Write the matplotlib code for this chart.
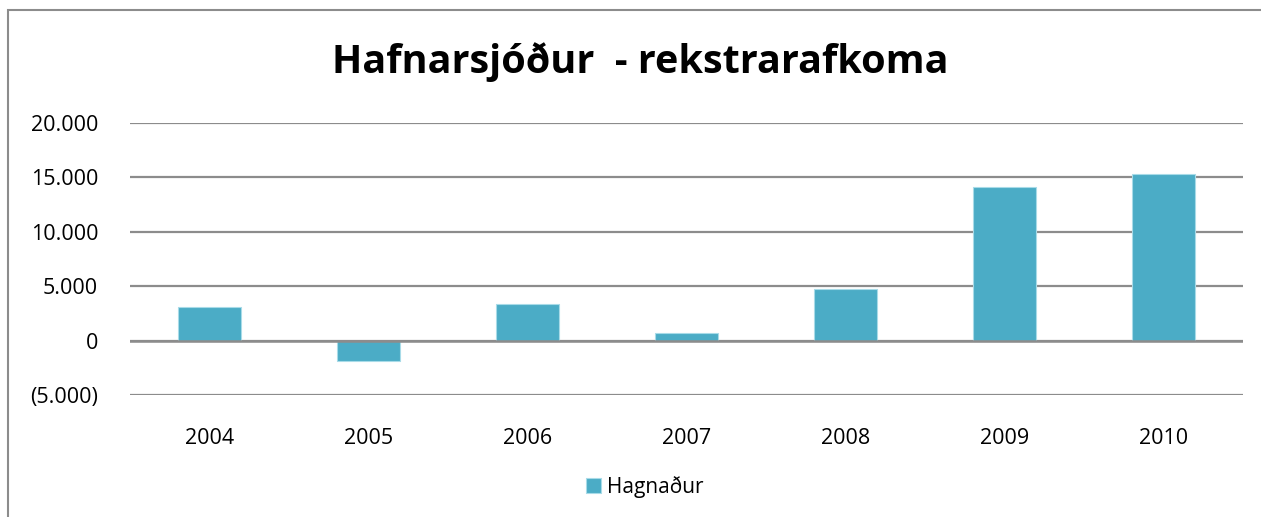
import matplotlib.pyplot as plt
from matplotlib.patches import Rectangle
from matplotlib.ticker import FuncFormatter

years = ["2004", "2005", "2006", "2007", "2008", "2009", "2010"]
hagnadur = [3050, -1900, 3370, 680, 4720, 14070, 15260]
yticks = [-5000, 0, 5000, 10000, 15000, 20000]

plt.rcParams['font.family'] = ['Open Sans', 'DejaVu Sans']

fig = plt.figure(figsize=(12.61, 5.17), dpi=100)
ax = fig.add_axes([130 / 1261, 1 - 395 / 517, 1113 / 1261, 272.3 / 517])

# chart frame (gray border, partly cut off by the image edge)
fig.patches.append(Rectangle((8 / 1261, -0.1), 1.2, (517 - 10) / 517 + 0.1,
                             transform=fig.transFigure, fill=False,
                             edgecolor="#8c8c8c", linewidth=1.5))


def fmt(v, pos):
    s = f"{abs(v):,.0f}".replace(",", ".")
    return f"({s})" if v < 0 else s


x = range(len(years))
ax.bar(x, hagnadur, width=0.4, color="#4BACC6", edgecolor="#a8dbe8",
       linewidth=0.8, zorder=3, label="Hagnaður")
ax.set_xlim(-0.5, len(years) - 0.5)
ax.set_ylim(-5000, 20000)
ax.set_yticks(yticks)
ax.yaxis.set_major_formatter(FuncFormatter(fmt))
ax.set_xticks(list(x))
ax.set_xticklabels(years)
ax.grid(axis="y", color="#8c8c8c", linewidth=1.6, zorder=0)
ax.axhline(0, color="#8c8c8c", linewidth=1.8, zorder=4)
for s in ax.spines.values():
    s.set_visible(False)
ax.tick_params(length=0, labelsize=15.5, colors="black")
ax.tick_params(axis="x", pad=24)
ax.tick_params(axis="y", pad=23)

fig.text(640 / 1261, 1 - 62 / 517, "Hafnarsjóður  - rekstrarafkoma",
         ha="center", va="center", fontsize=28.5, fontweight="bold")
fig.legend(loc="center", bbox_to_anchor=(645 / 1261, 1 - 487 / 517),
           frameon=False, fontsize=15, handlelength=0.7, handleheight=0.7,
           handletextpad=0.3)

fig.savefig("out.png", dpi=100)
